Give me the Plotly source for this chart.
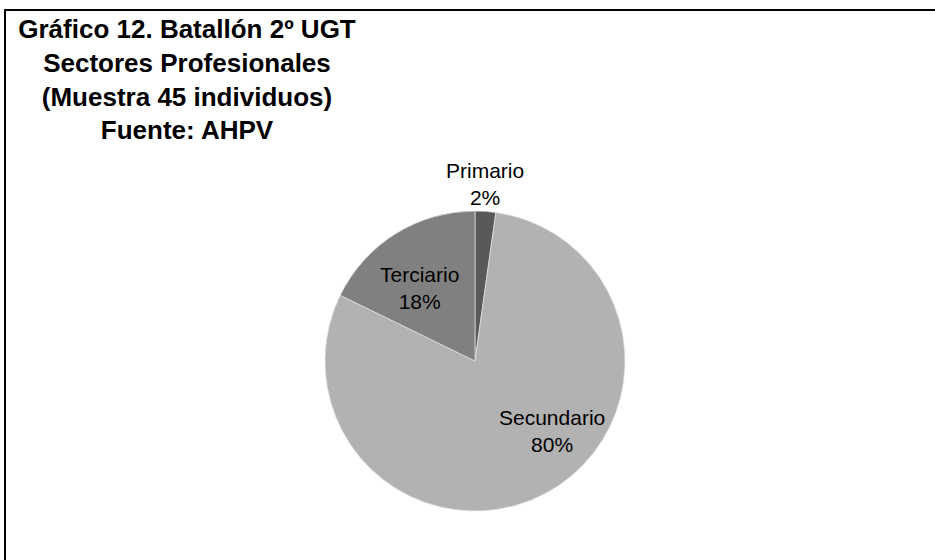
import plotly.graph_objects as go

sectores = ["Primario", "Secundario", "Terciario"]
individuos = [1, 36, 8]
colores = ["#595959", "#b2b2b2", "#808080"]

titulo = ("<b>Gráfico 12. Batallón 2º UGT<br>Sectores Profesionales<br>"
          "(Muestra 45 individuos)<br>Fuente: AHPV</b>")

W, H = 935, 560
cx, cy, r = 475, 361, 150

# where the label of each slice sits, in pixels from the pie centre
pos_etiquetas = {"Primario": (10, -177), "Secundario": (77, 70), "Terciario": (-56, -73)}

fig = go.Figure(go.Pie(
    labels=sectores,
    values=individuos,
    sort=False,
    direction="clockwise",
    rotation=0,
    marker=dict(colors=colores, line=dict(color="#e0e0e0", width=0.75)),
    textinfo="none",
    showlegend=False,
    hoverinfo="label+value+percent",
    domain=dict(x=[(cx - r) / W, (cx + r) / W],
                y=[(H - cy - r) / H, (H - cy + r) / H]),
))

total = sum(individuos)
for nombre, valor in zip(sectores, individuos):
    dx, dy = pos_etiquetas[nombre]
    fig.add_annotation(
        text=f"{nombre}<br>{round(100 * valor / total)}%",
        x=(cx + dx) / W, y=1 - (cy + dy) / H,
        xref="paper", yref="paper", xanchor="center", yanchor="middle",
        showarrow=False,
        font=dict(family="Liberation Sans, Arial", size=21, color="#000000"),
    )

fig.update_layout(
    width=W, height=H,
    margin=dict(l=0, r=0, t=0, b=0),
    paper_bgcolor="white",
    title=dict(text=titulo, x=187 / W, xref="container", xanchor="center",
               y=1 - 38 / H, yref="container", yanchor="top",
               font=dict(family="Liberation Sans, Arial", size=26, color="#000000")),
    shapes=[dict(type="rect", xref="paper", yref="paper",
                 x0=5 / W, x1=1.05, y0=-0.05, y1=1 - 10 / H,
                 line=dict(color="#000000", width=2))],
)

# drop the browser's default 8px body margin so the figure sits at the page corner
fig.write_html("out.html", config={"displayModeBar": False},
               post_script="document.body.style.margin = '0';")
